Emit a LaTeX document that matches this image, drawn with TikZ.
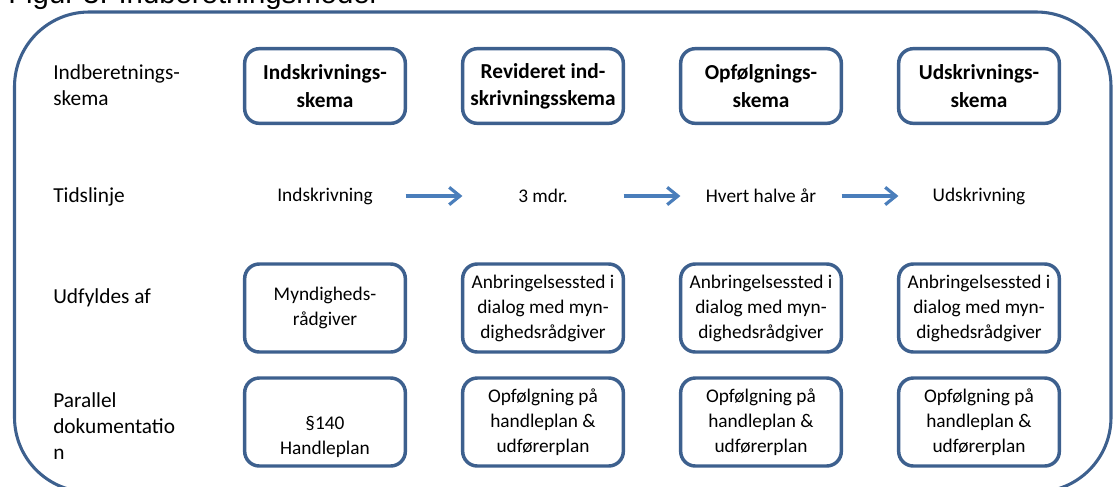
\documentclass[tikz,border=0pt]{standalone}
\usepackage{fontspec}
\setmainfont{Carlito}
\newfontfamily\titlefont{Liberation Sans}
\usetikzlibrary{arrows.meta}
\definecolor{frameblue}{RGB}{61,96,142}
\definecolor{arrowblue}{RGB}{74,126,187}
\begin{document}
\begin{tikzpicture}[x=0.75pt,y=-0.75pt,
  stepbox/.style={draw=frameblue, line width=2.6pt, rounded corners=11pt, minimum width=120.5pt, align=center, inner sep=0pt, fill=white},
  headbox/.style={stepbox, minimum height=56pt, font=\bfseries\fontsize{16}{20.5}\selectfont},
  infobox/.style={stepbox, minimum height=66pt, font=\fontsize{14.5}{18.75}\selectfont},
  timetext/.style={minimum width=120.5pt, inner sep=0pt, font=\fontsize{14.5}{18}\selectfont},
  rowlabel/.style={anchor=west, inner sep=0pt, align=left, font=\fontsize{16}{19.5}\selectfont},
  arr/.style={draw=arrowblue, line width=2.4pt, -{Straight Barb[length=8pt,width=13pt]}},
  frame/.style={draw=frameblue, line width=2.3pt, rounded corners=56pt}
]
\path[use as bounding box] (0,0) rectangle (1114,486);
\clip (0,0) rectangle (1114,486);

% title (cut off at top, as in the reference)
\node[anchor=base west, inner sep=0pt, font=\titlefont\fontsize{22}{26}\selectfont] (title) at (8,3) {Figur 3: Indberetningsmodel};

% outer frame
\draw[frame] (14.5,12) rectangle (1111,492);

% row labels
\node[rowlabel] (l1) at (53,85) {Indberetnings-\\skema};
\node[rowlabel] (l2) at (53,197) {Tidslinje};
\node[rowlabel] (l3) at (53,298) {Udfyldes af};
\node[rowlabel] (l4) at (53,426) {Parallel\\dokumentatio\\n};

% row 1
\node[headbox] (h1) at (325,86) {Indskrivnings-\\skema};
\node[headbox] (h2) at (543,86) {Revideret ind-\\skrivningsskema};
\node[headbox] (h3) at (761,86) {Opfølgnings-\\skema};
\node[headbox] (h4) at (979,86) {Udskrivnings-\\skema};

% timeline
\node[timetext] (t1) at (325,196) {Indskrivning};
\node[timetext] (t2) at (543,196) {3 mdr.};
\node[timetext] (t3) at (761,196) {Hvert halve år};
\node[timetext] (t4) at (979,196) {Udskrivning};
\draw[arr] (t1) -- (t2);
\draw[arr] (t2) -- (t3);
\draw[arr] (t3) -- (t4);

% row 3
\node[infobox] (u1) at (325,308) {Myndigheds-\\rådgiver};
\node[infobox] (u2) at (543,308) {Anbringelsessted i\\dialog med myn-\\dighedsrådgiver};
\node[infobox] (u3) at (761,308) {Anbringelsessted i\\dialog med myn-\\dighedsrådgiver};
\node[infobox] (u4) at (979,308) {Anbringelsessted i\\dialog med myn-\\dighedsrådgiver};

% row 4
\node[infobox] (p1) at (325,422) {\strut\\§140\\Handleplan};
\node[infobox] (p2) at (543,422) {Opfølgning på\\handleplan \&\\udførerplan};
\node[infobox] (p3) at (761,422) {Opfølgning på\\handleplan \&\\udførerplan};
\node[infobox] (p4) at (979,422) {Opfølgning på\\handleplan \&\\udførerplan};
\end{tikzpicture}
\end{document}
